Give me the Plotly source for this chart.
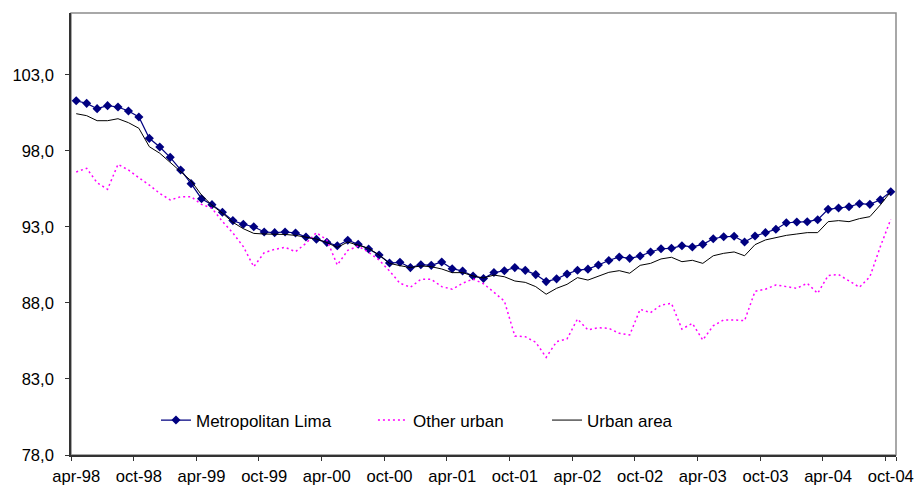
import plotly.graph_objects as go

# Monthly series, April 1998 to October 2004
month_names = ["jan", "feb", "mar", "apr", "may", "jun",
               "jul", "aug", "sep", "oct", "nov", "dec"]
months = []
for k in range(79):
    m = (3 + k) % 12
    yr = 98 + (3 + k) // 12
    months.append(f"{month_names[m]}-{yr % 100:02d}")

tick_months = months[::6]

metropolitan_lima = [
    101.29, 101.12, 100.77, 100.97, 100.88, 100.62, 100.22, 98.82, 98.25, 97.57,
    96.74, 95.84, 94.85, 94.46, 93.96, 93.41, 93.17, 93.01, 92.66, 92.62,
    92.66, 92.60, 92.33, 92.18, 91.98, 91.76, 92.12, 91.86, 91.54, 91.15,
    90.62, 90.67, 90.32, 90.51, 90.47, 90.69, 90.25, 90.10, 89.77, 89.60,
    90.00, 90.11, 90.32, 90.14, 89.86, 89.40, 89.58, 89.90, 90.15, 90.22,
    90.49, 90.79, 91.02, 90.93, 91.08, 91.35, 91.56, 91.59, 91.76, 91.68,
    91.85, 92.22, 92.35, 92.38, 92.00, 92.40, 92.62, 92.84, 93.27, 93.32,
    93.34, 93.47, 94.15, 94.24, 94.32, 94.52, 94.48, 94.78, 95.31,
]

other_urban = [
    96.61, 96.85, 95.90, 95.47, 97.11, 96.74, 96.23, 95.75, 95.20, 94.77,
    94.98, 94.98, 94.48, 94.22, 93.35, 92.60, 91.70, 90.38, 91.30, 91.52,
    91.65, 91.37, 91.92, 92.62, 92.14, 90.49, 91.45, 91.74, 91.32, 90.82,
    90.10, 89.29, 89.03, 89.55, 89.55, 89.07, 88.90, 89.29, 89.57, 89.26,
    88.70, 88.12, 85.82, 85.78, 85.41, 84.42, 85.45, 85.63, 86.94, 86.22,
    86.37, 86.33, 86.00, 85.89, 87.58, 87.36, 87.86, 87.97, 86.28, 86.66,
    85.56, 86.50, 86.88, 86.88, 86.83, 88.76, 88.90, 89.18, 89.07, 88.96,
    89.29, 88.63, 89.80, 89.86, 89.45, 89.03, 89.72, 91.70, 93.50,
]

urban_area = [
    100.44, 100.31, 99.98, 99.98, 100.11, 99.85, 99.48, 98.27, 97.84, 97.24,
    96.65, 96.03, 95.09, 94.42, 93.90, 93.30, 92.88, 92.57, 92.53, 92.53,
    92.50, 92.44, 92.33, 92.20, 91.96, 91.65, 92.00, 91.81, 91.59, 91.15,
    90.60, 90.45, 90.32, 90.43, 90.38, 90.23, 89.99, 89.99, 89.77, 89.64,
    89.83, 89.72, 89.44, 89.35, 89.07, 88.57, 88.96, 89.22, 89.66, 89.50,
    89.77, 90.01, 90.12, 89.95, 90.47, 90.60, 90.89, 91.00, 90.71, 90.80,
    90.60, 91.10, 91.26, 91.35, 91.10, 91.83, 92.14, 92.31, 92.44, 92.53,
    92.62, 92.62, 93.34, 93.41, 93.34, 93.54, 93.67, 94.44, 95.31,
]

y_ticks = [78, 83, 88, 93, 98, 103]
y_tick_text = [f"{v},0" for v in y_ticks]

FONT = "Liberation Sans, Arial, sans-serif"

fig = go.Figure()

fig.add_trace(go.Scatter(
    x=months, y=metropolitan_lima, name="Metropolitan Lima",
    mode="lines+markers",
    line=dict(color="#000080", width=1.2),
    marker=dict(symbol="diamond", size=7, color="#000080"),
    legend="legend",
))
fig.add_trace(go.Scatter(
    x=months, y=other_urban, name="Other urban",
    mode="lines",
    line=dict(color="#FF00FF", width=1.5, dash="2px,3px"),
    legend="legend2",
))
fig.add_trace(go.Scatter(
    x=months, y=urban_area, name="Urban area",
    mode="lines",
    line=dict(color="#000000", width=1),
    legend="legend3",
))

legend_common = dict(
    orientation="h", yanchor="middle", xanchor="left",
    bgcolor="rgba(0,0,0,0)", borderwidth=0,
    font=dict(family=FONT, size=17, color="#000000"),
)

fig.update_layout(
    width=914, height=486,
    margin=dict(l=71, r=18, t=13, b=31, autoexpand=False),
    paper_bgcolor="white", plot_bgcolor="white",
    font=dict(family=FONT, size=17, color="#000000"),
    showlegend=True,
    legend=dict(x=0.103, y=0.078, **legend_common),
    legend2=dict(x=0.366, y=0.078, **legend_common),
    legend3=dict(x=0.577, y=0.078, **legend_common),
    xaxis=dict(
        type="category",
        range=[-0.5, 78.5],
        tickmode="array", tickvals=tick_months, ticktext=tick_months,
        tickson="boundaries", tickangle=0, automargin=False,
        ticks="outside", ticklen=4, tickcolor="#333333", tickwidth=1,
        showline=True, linecolor="#333333", linewidth=1.5,
        showgrid=False, zeroline=False,
        ticklabelstandoff=5,
        tickfont=dict(family=FONT, size=16.6, color="#000000"),
    ),
    yaxis=dict(
        range=[78, 107.06],
        tickmode="array", tickvals=y_ticks, ticktext=y_tick_text,
        ticks="outside", ticklen=4, tickcolor="#333333", tickwidth=1,
        showline=True, linecolor="#333333", linewidth=1.5,
        showgrid=False, zeroline=False, automargin=False,
        ticklabelstandoff=8,
        tickfont=dict(family=FONT, size=16.6, color="#000000"),
    ),
    shapes=[dict(
        type="rect", xref="paper", yref="paper", x0=0, y0=0, x1=1, y1=1,
        line=dict(color="#8c8c8c", width=1.5), layer="below",
    )],
)

fig.write_html("out.html")
